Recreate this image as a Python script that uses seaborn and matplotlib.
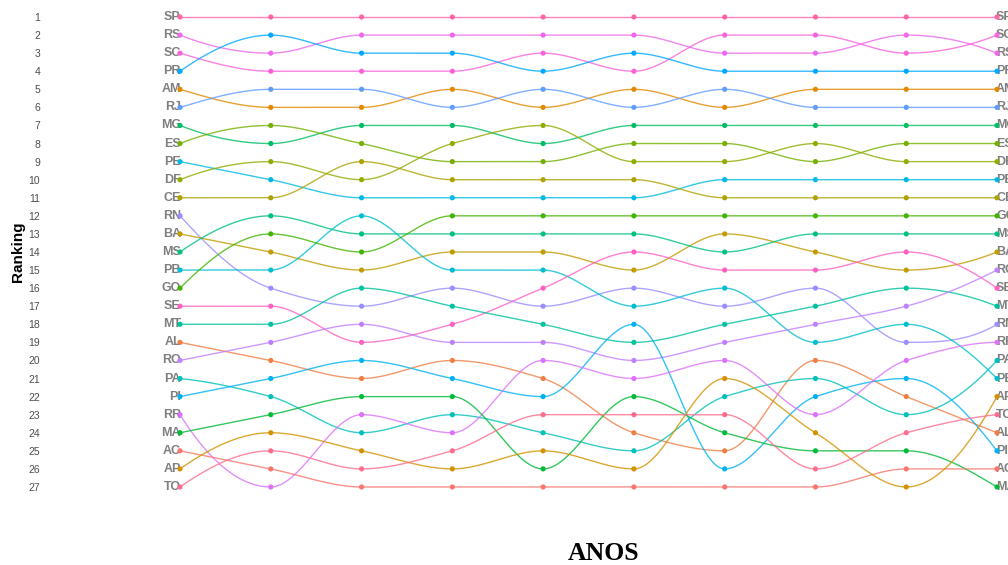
import numpy as np
import pandas as pd
import matplotlib
matplotlib.use("Agg")
import matplotlib.pyplot as plt
import seaborn as sns

# ---------------- data ----------------
estados = ["SP", "RS", "SC", "PR", "AM", "RJ", "MG", "ES", "PE", "DF", "CE", "RN", "BA", "MS",
           "PB", "GO", "SE", "MT", "AL", "RO", "PA", "PI", "RR", "MA", "AC", "AP", "TO"]
periodos = [1, 2, 3, 4, 5, 6, 7, 8, 9, 10]

rank_p1 = [1, 2, 3, 4, 5, 6, 7, 8, 9, 10, 11, 12, 13, 14, 15, 16, 17, 18, 19, 20, 21, 22, 23, 24, 25, 26, 27]
rank_p2 = [1, 3, 4, 2, 6, 5, 8, 7, 10, 9, 11, 16, 14, 12, 15, 13, 17, 18, 20, 19, 22, 21, 27, 23, 26, 24, 25]
rank_p3 = [1, 2, 4, 3, 6, 5, 7, 8, 11, 10, 9, 17, 15, 13, 12, 14, 19, 16, 21, 18, 24, 20, 23, 22, 27, 25, 26]
rank_p4 = [1, 2, 4, 3, 5, 6, 7, 9, 11, 8, 10, 16, 14, 13, 15, 12, 18, 17, 20, 19, 23, 21, 24, 22, 27, 26, 25]
rank_p5 = [1, 2, 3, 4, 6, 5, 8, 9, 11, 7, 10, 17, 14, 13, 15, 12, 16, 18, 21, 19, 24, 22, 20, 26, 27, 25, 23]
rank_p6 = [1, 2, 4, 3, 5, 6, 7, 8, 11, 9, 10, 16, 15, 13, 17, 12, 14, 19, 24, 20, 25, 18, 21, 22, 27, 26, 23]
rank_p7 = [1, 3, 2, 4, 6, 5, 7, 8, 10, 9, 11, 17, 13, 14, 16, 12, 15, 18, 25, 19, 22, 26, 20, 24, 27, 21, 23]
rank_p8 = [1, 3, 2, 4, 5, 6, 7, 9, 10, 8, 11, 16, 14, 13, 19, 12, 15, 17, 20, 18, 21, 22, 23, 25, 27, 24, 26]
rank_p9 = [1, 2, 3, 4, 5, 6, 7, 8, 10, 9, 11, 19, 15, 13, 18, 12, 14, 16, 22, 17, 23, 21, 20, 25, 26, 27, 24]
rank_p10 = [1, 3, 2, 4, 5, 6, 7, 8, 10, 9, 11, 18, 14, 13, 21, 12, 16, 17, 24, 15, 20, 25, 19, 27, 26, 22, 23]

ranks = [rank_p1, rank_p2, rank_p3, rank_p4, rank_p5, rank_p6, rank_p7, rank_p8, rank_p9, rank_p10]

# ---------------- colours (ggplot2 hue palette, alphabetical order) ----------------
def hcl_to_hex(h, c=100.0, l=65.0):
    Xn, Yn, Zn = 95.047, 100.0, 108.883
    un = 4 * Xn / (Xn + 15 * Yn + 3 * Zn)
    vn = 9 * Yn / (Xn + 15 * Yn + 3 * Zn)
    hr = np.deg2rad(h)
    u, v = c * np.cos(hr), c * np.sin(hr)
    Y = Yn * ((l + 16) / 116) ** 3
    up = u / (13 * l) + un
    vp = v / (13 * l) + vn
    X = Y * 9 * up / (4 * vp)
    Z = Y * (12 - 3 * up - 20 * vp) / (4 * vp)
    X, Y, Z = X / 100, Y / 100, Z / 100
    r = 3.2404542 * X - 1.5371385 * Y - 0.4985314 * Z
    g = -0.9692660 * X + 1.8760108 * Y + 0.0415560 * Z
    b = 0.0556434 * X - 0.2040259 * Y + 1.0572252 * Z
    out = []
    for ch in (r, g, b):
        ch = 1.055 * ch ** (1 / 2.4) - 0.055 if ch > 0.0031308 else 12.92 * ch
        out.append(min(max(ch, 0), 1))
    return matplotlib.colors.to_hex(out)

ordem = sorted(estados)
n = len(ordem)
hues = np.linspace(15, 375 - 360 / n, n) % 360
paleta = {s: hcl_to_hex(h) for s, h in zip(ordem, hues)}

# ---------------- long data ----------------
pts = pd.DataFrame({
    "estado": np.repeat(estados, len(periodos)),
    "periodo": np.tile(periodos, len(estados)),
})
pts["rank"] = [ranks[j][i] for i in range(len(estados)) for j in range(len(periodos))]


# smooth monotone (PCHIP) curve through each state's ranks
def pchip_slopes(y):
    y = np.asarray(y, float)
    d = np.diff(y)
    m = np.zeros_like(y)
    for k in range(1, len(y) - 1):
        if d[k - 1] * d[k] > 0:
            m[k] = 2.0 / (1.0 / d[k - 1] + 1.0 / d[k])
    for k, (d0, d1) in ((0, (d[0], d[1])), (len(y) - 1, (d[-1], d[-2]))):
        mk = (3 * d0 - d1) / 2.0
        if np.sign(mk) != np.sign(d0):
            mk = 0.0
        elif np.sign(d0) != np.sign(d1) and abs(mk) > 3 * abs(d0):
            mk = 3 * d0
        m[k] = mk
    return m


tt = np.linspace(0, 1, 40)
h00 = 2 * tt**3 - 3 * tt**2 + 1
h10 = tt**3 - 2 * tt**2 + tt
h01 = -2 * tt**3 + 3 * tt**2
h11 = tt**3 - tt**2
rows = []
for i, s in enumerate(estados):
    y = [ranks[j][i] for j in range(len(periodos))]
    m = pchip_slopes(y)
    for j in range(len(periodos) - 1):
        xs = periodos[j] + tt * (periodos[j + 1] - periodos[j])
        ys = h00 * y[j] + h10 * m[j] + h01 * y[j + 1] + h11 * m[j + 1]
        for xx, yy in zip(xs, ys):
            rows.append((s, xx, yy))
curvas = pd.DataFrame(rows, columns=["estado", "periodo", "rank"])

# ---------------- plot ----------------
sns.set_theme(style="white")
plt.rcParams["font.family"] = ["Liberation Sans", "DejaVu Sans"]

W, H = 1008, 565
fig = plt.figure(figsize=(W / 100, H / 100), dpi=100)
ax = fig.add_axes([47 / W, 0.1221, (W - 47) / W, 0.8638])

sns.lineplot(data=curvas, x="periodo", y="rank", hue="estado", palette=paleta,
             estimator=None, sort=False, legend=False, linewidth=1.0, alpha=0.8, ax=ax)
sns.scatterplot(data=pts, x="periodo", y="rank", hue="estado", palette=paleta,
                s=14, linewidth=0, legend=False, ax=ax, zorder=5)

for i, s in enumerate(estados):
    ax.text(periodos[0] + 0.01, rank_p1[i], s, ha="right", va="center",
            fontsize=9, fontweight="bold", color="#7f7f7f", zorder=4)
    ax.text(periodos[-1] - 0.01, rank_p10[i], s, ha="left", va="center",
            fontsize=9, fontweight="bold", color="#7f7f7f", zorder=4, clip_on=False)

ax.set_xlim(-0.465, 10.121)
ax.set_ylim(27.5, 0.5)
ax.set_yticks(range(1, 28))
ax.set_yticklabels([str(r) for r in range(1, 28)], fontsize=7.5, color="#4d4d4d")
ax.set_xticks([])
ax.tick_params(axis="y", length=0, pad=5)
ax.set_xlabel("")
ax.set_ylabel("")
for sp in ax.spines.values():
    sp.set_visible(False)
ax.grid(False)

fig.text(17.5 / W, 1 - 252 / H, "Ranking", rotation=90, ha="center", va="center",
         fontsize=11, fontweight="bold", color="black")
fig.text(604 / W, 5 / H, "ANOS", ha="center", va="baseline",
         fontsize=18.5, fontweight="bold", family="Liberation Serif", color="black")

fig.savefig("out.png", dpi=100)
